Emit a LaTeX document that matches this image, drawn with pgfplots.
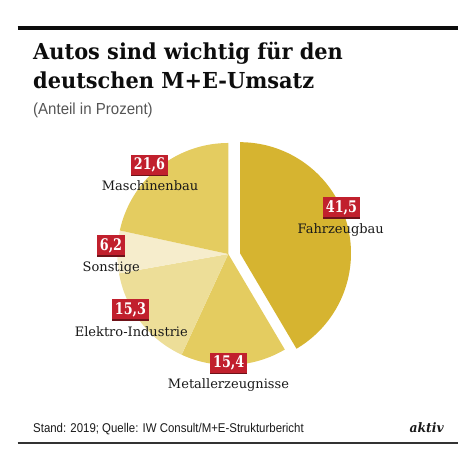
\documentclass[border=0pt]{standalone}
\usepackage{fontspec}
\usepackage{pgfplots}
\usepackage{pgfplotstable}
\pgfplotsset{compat=1.18}
\setmainfont{DejaVu Serif}
\newfontfamily\titlefont[FakeStretch=0.95]{DejaVu Serif}
\newfontfamily\labelfont{DejaVu Serif}
\newfontfamily\numfont[FakeStretch=0.80]{DejaVu Serif}
\newfontfamily\sansfont[FakeStretch=0.94]{Liberation Sans}
\newfontfamily\footfont[FakeStretch=0.90]{Liberation Sans}

\definecolor{pie0}{RGB}{214,180,48}
\definecolor{pie1}{RGB}{228,204,96}
\definecolor{pie2}{RGB}{237,222,152}
\definecolor{pie3}{RGB}{246,237,204}
\definecolor{pie4}{RGB}{228,204,96}
\definecolor{boxred}{RGB}{193,32,45}
\definecolor{boxshadow}{RGB}{110,18,25}
\definecolor{txt}{RGB}{25,25,25}
\definecolor{subgray}{RGB}{85,85,85}

% share of M+E turnover in percent, clockwise from 12 o'clock
\pgfplotstableread{
value dx dy
41.5 11.7 0.8
15.4 0 0
15.3 0 0
6.2 0 0
21.6 0 0
}\piedata

\newcommand\valbox[3]{%
  \node[fill=boxshadow, text=boxshadow, minimum height=20pt, inner xsep=3pt, inner ysep=0pt,
        font=\numfont\bfseries\fontsize{16}{16}\selectfont] at (axis cs:#1,{470-#2-1.5}) {#3};
  \node[fill=boxred, text=white, minimum height=20pt, inner xsep=3pt, inner ysep=0pt,
        font=\numfont\bfseries\fontsize{16}{16}\selectfont] at (axis cs:#1,{470-#2}) {#3};
}
\newcommand\catlabel[3]{%
  \node[anchor=base, text=txt, inner sep=0pt, font=\labelfont\fontsize{13}{13}\selectfont]
     at (axis cs:#1,{470-#2}) {#3};
}

\begin{document}
\begin{tikzpicture}
\begin{axis}[width=474pt, height=470pt, scale only axis,
  xmin=0, xmax=474, ymin=0, ymax=470, hide axis, clip=false]
\path (axis cs:0,0) rectangle (axis cs:474,470);

\def\cum{0}
\pgfplotsforeachungrouped \i in {0,...,4}{%
  \pgfplotstablegetelem{\i}{value}\of\piedata \let\v\pgfplotsretval
  \pgfplotstablegetelem{\i}{dx}\of\piedata \let\ddx\pgfplotsretval
  \pgfplotstablegetelem{\i}{dy}\of\piedata \let\ddy\pgfplotsretval
  \pgfmathsetmacro\a{90-3.6*\cum}%
  \pgfmathsetmacro\cum{\cum+\v}%
  \pgfmathsetmacro\b{90-3.6*\cum}%
  \pgfmathsetmacro\cx{228.3+\ddx}%
  \pgfmathsetmacro\cy{216+\ddy}%
  \edef\temp{\noexpand\addplot[fill=pie\i, draw=none, domain=\b:\a, samples=100,
     variable=\noexpand\t] ({\cx+111*cos(\noexpand\t)},{\cy+111*sin(\noexpand\t)})
     -- (axis cs:\cx,\cy) -- cycle;}%
  \temp
}

% rules
\draw[line width=4pt, color=black!95] (axis cs:17.5,442.4) -- (axis cs:458.3,442.4);
\draw[line width=1.6pt, color=black!80] (axis cs:17.5,26.7) -- (axis cs:458.3,26.7);

% titles
\node[anchor=base west, inner sep=0pt, text=black!95, font=\titlefont\bfseries\fontsize{22}{22}\selectfont]
  at (axis cs:33,{470-59.3}) {Autos sind wichtig für den};
\node[anchor=base west, inner sep=0pt, text=black!95, font=\titlefont\bfseries\fontsize{22}{22}\selectfont]
  at (axis cs:33,{470-88.3}) {deutschen M+E-Umsatz};
\node[anchor=base west, inner sep=0pt, text=subgray, font=\sansfont\fontsize{16}{16}\selectfont]
  at (axis cs:33,{470-115}) {(Anteil in Prozent)};

% footer
\node[anchor=base west, inner sep=0pt, text=txt, font=\footfont\fontsize{12.7}{12.7}\selectfont]
  at (axis cs:33,{470-433}) {Stand: 2019; Quelle: IW Consult/M+E-Strukturbericht};
\node[anchor=base east, inner sep=0pt, text=txt, font=\titlefont\bfseries\itshape\fontsize{13}{13}\selectfont]
  at (axis cs:444,{470-433}) {aktiv};

% labels
\valbox{341.5}{207.5}{41,5}
\catlabel{340.7}{233.3}{Fahrzeugbau}
\valbox{228.7}{363}{15,4}
\catlabel{228.5}{388.3}{Metallerzeugnisse}
\valbox{130.5}{309.5}{15,3}
\catlabel{131.3}{336.7}{Elektro-Industrie}
\valbox{111}{245.5}{6,2}
\catlabel{111.3}{271.7}{Sonstige}
\valbox{149.5}{165}{21,6}
\catlabel{150}{190.7}{Maschinenbau}
\end{axis}
\end{tikzpicture}
\end{document}
